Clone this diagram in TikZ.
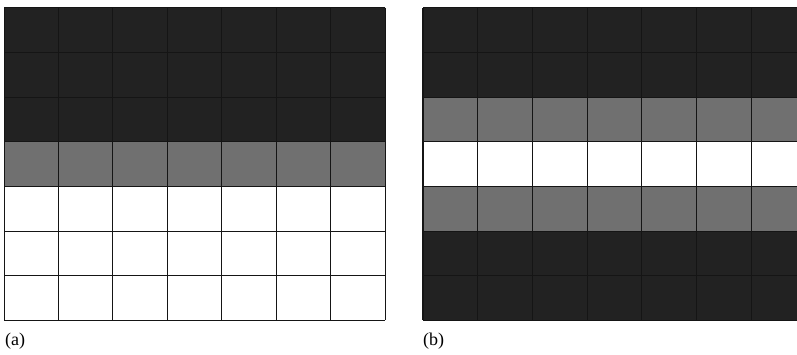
\documentclass[tikz,border=0pt]{standalone}
\usepackage{fontspec}
\setmainfont{Liberation Serif}
\definecolor{cdark}{HTML}{222222}
\definecolor{cgrey}{HTML}{707070}
\definecolor{cline}{HTML}{151515}
\begin{document}
\begin{tikzpicture}[x=1pt,y=-1pt,
  gridline/.style={draw=cline,line width=0.8pt},
  baseline/.style={draw=cline,line width=1.8pt},
  lbl/.style={anchor=base west,inner sep=0pt,font=\fontsize{18}{21}\selectfont}]
\useasboundingbox (0,0) rectangle (797,354);
% ---------- (a) ----------
\def\ax{4}\def\aw{54.43}\def\ay{7.5}\def\ah{44.7}
\fill[cdark] (\ax,\ay) rectangle ({\ax+7*\aw},{\ay+3*\ah});
\fill[cgrey] (\ax,{\ay+3*\ah}) rectangle ({\ax+7*\aw},{\ay+4*\ah});
\fill[white] (\ax,{\ay+4*\ah}) rectangle ({\ax+7*\aw},{\ay+7*\ah});
\foreach \i in {0,...,7} \draw[gridline] ({\ax+\i*\aw},\ay) -- ({\ax+\i*\aw},{\ay+7*\ah});
\foreach \j in {0,...,6} \draw[gridline] (\ax,{\ay+\j*\ah}) -- ({\ax+7*\aw},{\ay+\j*\ah});
\draw[baseline] (\ax,{\ay+7*\ah}) -- ({\ax+7*\aw},{\ay+7*\ah});
% ---------- (b) ----------
\begin{scope}
\clip (400,0) rectangle (797,354);
\def\bx{423}\def\bw{54.7}\def\by{7.5}\def\bh{44.7}
\fill[cdark] (\bx,\by) rectangle ({\bx+7*\bw},{\by+2*\bh});
\fill[cgrey] (\bx,{\by+2*\bh}) rectangle ({\bx+7*\bw},{\by+3*\bh});
\fill[white] (\bx,{\by+3*\bh}) rectangle ({\bx+7*\bw},{\by+4*\bh});
\fill[cgrey] (\bx,{\by+4*\bh}) rectangle ({\bx+7*\bw},{\by+5*\bh});
\fill[cdark] (\bx,{\by+5*\bh}) rectangle ({\bx+7*\bw},{\by+7*\bh});
\foreach \i in {0,...,7} \draw[gridline] ({\bx+\i*\bw},\by) -- ({\bx+\i*\bw},{\by+7*\bh});
\draw[cline,line width=1.6pt] (\bx,\by) -- (\bx,{\by+7*\bh});
\foreach \j in {0,...,6} \draw[gridline] (\bx,{\by+\j*\bh}) -- ({\bx+7*\bw},{\by+\j*\bh});
\draw[baseline] (\bx,{\by+7*\bh}) -- ({\bx+7*\bw},{\by+7*\bh});
\end{scope}
% ---------- labels ----------
\node[lbl] (la) at (5,345.5) {(a)};
\node[lbl] (lb) at (423,345.5) {(b)};
\end{tikzpicture}
\end{document}
